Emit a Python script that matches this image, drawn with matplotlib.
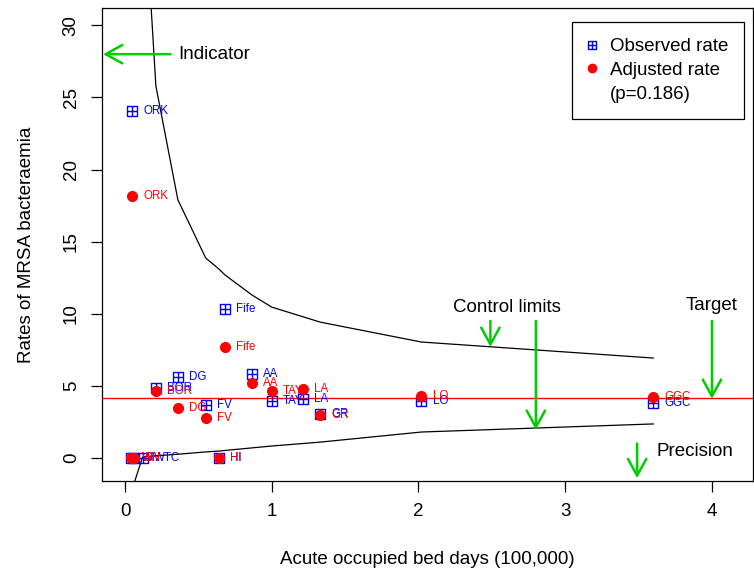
import numpy as np
import matplotlib
matplotlib.use("Agg")
import matplotlib.pyplot as plt
from matplotlib.path import Path
from matplotlib.lines import Line2D

plt.rcParams["font.family"] = ["Liberation Sans", "DejaVu Sans"]

# data
regions = ["ORK", "Fife", "DG", "BOR", "AA", "FV", "TAY", "LA", "GR", "LO", "GGC", "HI", "SH", "WI", "WTC"]
bed_days = [0.05, 0.68, 0.36, 0.21, 0.865, 0.55, 1.0, 1.21, 1.33, 2.02, 3.6, 0.64, 0.06, 0.04, 0.12]
observed = [24.05, 10.33, 5.61, 4.85, 5.82, 3.67, 3.95, 4.09, 3.05, 3.95, 3.81, 0, 0, 0, 0]
adjusted = [18.16, 7.69, 3.47, 4.64, 5.2, 2.77, 4.64, 4.78, 2.98, 4.3, 4.23, 0, 0, 0, np.nan]
target = 4.16

limit_x = [0.04, 0.06, 0.12, 0.21, 0.36, 0.55, 0.64, 0.68, 0.865, 1.0, 1.21, 1.33, 2.02, 3.6]
upper = [80, 55, 41, 25.8, 17.9, 13.86, 13.1, 12.7, 11.3, 10.46, 9.8, 9.42, 8.04, 6.93]
lower = [-5, -1.8, 0.07, 0.15, 0.26, 0.42, 0.48, 0.52, 0.7, 0.83, 1.0, 1.1, 1.8, 2.36]

GREEN = "#00CD00"
FS = 13.5

# square with a plus inside (R pch=12)
sq_plus = Path(
    [(-1, -1), (1, -1), (1, 1), (-1, 1), (-1, -1), (-1, 0), (1, 0), (0, -1), (0, 1)],
    [Path.MOVETO, Path.LINETO, Path.LINETO, Path.LINETO, Path.LINETO,
     Path.MOVETO, Path.LINETO, Path.MOVETO, Path.LINETO],
)

fig = plt.figure(figsize=(7.54, 5.72), dpi=100)
ax = fig.add_axes([0.1353, 0.159, 0.8634, 0.827])

ax.plot(limit_x, upper, color="black", lw=0.9)
ax.plot(limit_x, lower, color="black", lw=0.9)
ax.axhline(target, color="red", lw=1)

ax.plot(bed_days, observed, ls="none", marker=sq_plus, ms=7, mfc="none", mec="blue", mew=1)
for x, y, r in zip(bed_days, observed, regions):
    ax.annotate(r, (x, y), xytext=(8, 0), textcoords="offset points",
                color="blue", fontsize=8.3, va="center", ha="left")

ax.plot(bed_days, adjusted, ls="none", marker="o", ms=7, color="red")
for x, y, r in zip(bed_days, adjusted, regions):
    if np.isnan(y):
        continue
    ax.annotate(r, (x, y), xytext=(8, 0), textcoords="offset points",
                color="red", fontsize=8.3, va="center", ha="left")

# annotations
arrow = dict(arrowstyle="->,head_length=0.6,head_width=0.33", color=GREEN, lw=1.8,
             mutation_scale=20, shrinkA=0, shrinkB=0)
ax.annotate("", xy=(-0.15, 28.0), xytext=(0.31, 28.0), arrowprops=arrow)
ax.text(0.36, 28.0, "Indicator", fontsize=FS, va="center", ha="left")
ax.text(2.6, 10.4, "Control limits", fontsize=FS, va="center", ha="center")
ax.annotate("", xy=(2.49, 7.7), xytext=(2.49, 9.5), arrowprops=arrow)
ax.annotate("", xy=(2.80, 1.95), xytext=(2.80, 9.5), arrowprops=arrow)
ax.text(4.0, 10.55, "Target", fontsize=FS, va="center", ha="center")
ax.annotate("", xy=(4.0, 4.1), xytext=(4.0, 9.5), arrowprops=arrow)
ax.text(3.62, 0.45, "Precision", fontsize=FS, va="center", ha="left")
ax.annotate("", xy=(3.49, -1.4), xytext=(3.49, 1.0), arrowprops=arrow)

ax.set_xlim(-0.157, 4.28)
ax.set_ylim(-1.6, 31.2)
ax.set_xticks([0, 1, 2, 3, 4])
ax.set_yticks([0, 5, 10, 15, 20, 25, 30])
ax.tick_params(axis="both", direction="out", length=8, width=0.9, labelsize=FS)
ax.tick_params(axis="x", pad=8)
ax.tick_params(axis="y", pad=8, labelrotation=90)
for lab in ax.get_yticklabels():
    lab.set_va("center")
for s in ax.spines.values():
    s.set_linewidth(0.9)

ax.set_xlabel("Acute occupied bed days (100,000)", fontsize=FS, labelpad=22)
ax.set_ylabel("Rates of MRSA bacteraemia", fontsize=FS, labelpad=20)

handles = [
    Line2D([], [], ls="none", marker=sq_plus, ms=5.5, mfc="none", mec="blue", mew=1),
    Line2D([], [], ls="none", marker="o", ms=6, color="red"),
    Line2D([], [], ls="none"),
]
leg = ax.legend(handles, ["Observed rate", "Adjusted rate", "(p=0.186)"],
                loc="upper right", bbox_to_anchor=(0.986, 0.970), borderaxespad=0,
                fontsize=FS, fancybox=False, edgecolor="black", framealpha=1,
                handlelength=0.4, handletextpad=0.76, labelspacing=0.35,
                borderpad=0.85, numpoints=1)
leg.get_frame().set_linewidth(0.9)

fig.savefig("out.png", dpi=100)
